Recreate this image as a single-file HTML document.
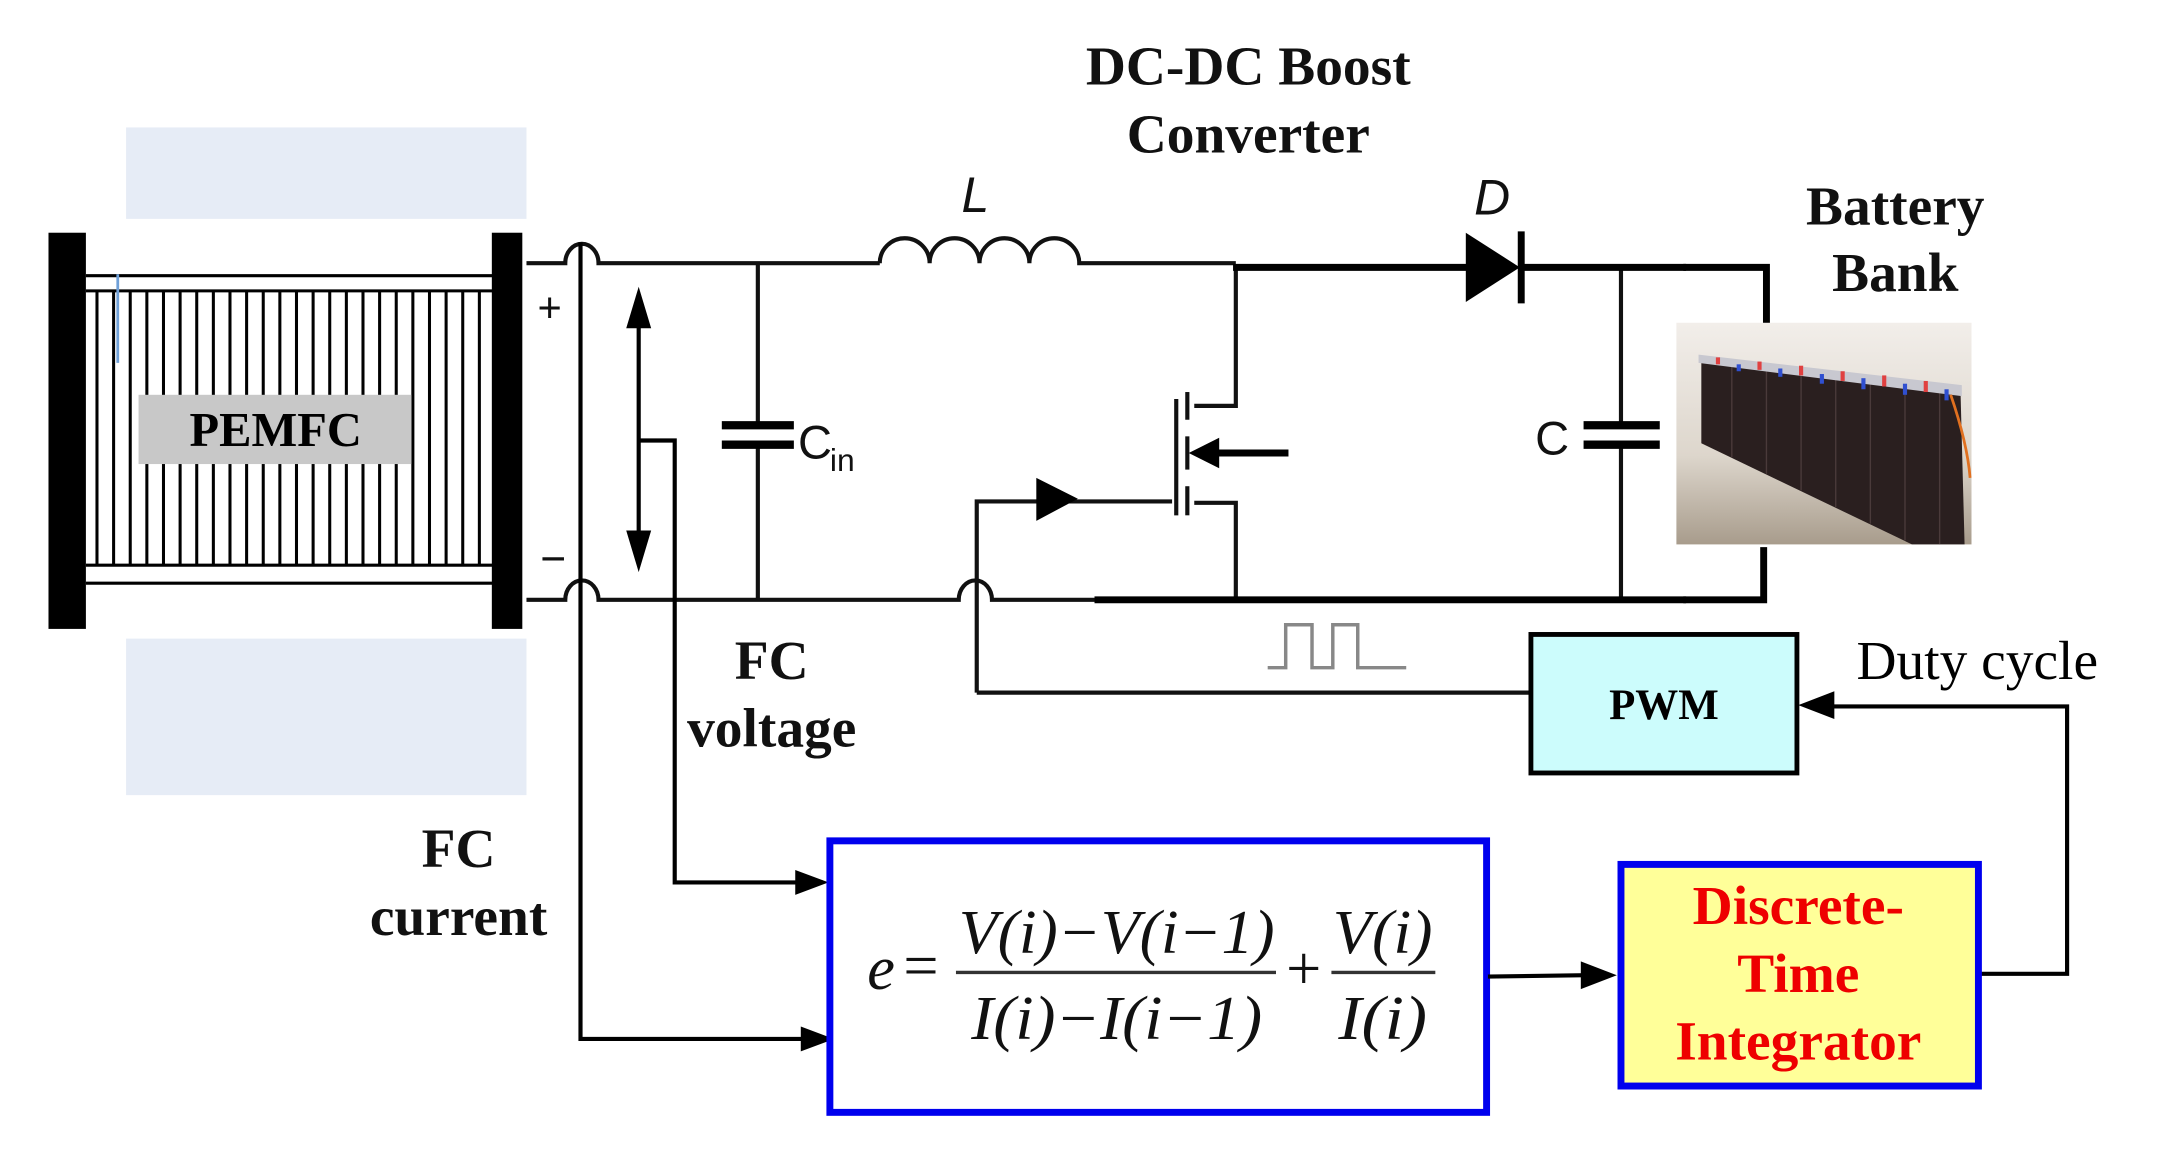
<!DOCTYPE html>
<html><head><meta charset="utf-8"><style>html,body{margin:0;padding:0;background:#fff}svg{display:block}</style></head>
<body>
<svg width="2171" height="1165" viewBox="0 0 1567 841" preserveAspectRatio="none" xmlns="http://www.w3.org/2000/svg" font-family="Liberation Serif, serif">
<rect x="0" y="0" width="1567" height="841" fill="#fff"/>
<rect x="91" y="92" width="289" height="66" fill="#e6ecf6"/>
<rect x="91" y="461" width="289" height="113" fill="#e6ecf6"/>
<g stroke="#000" stroke-width="2.2">
<line x1="62" y1="199" x2="356" y2="199"/><line x1="62" y1="210" x2="356" y2="210"/>
<line x1="62" y1="408" x2="356" y2="408"/><line x1="62" y1="421" x2="356" y2="421"/>
<line x1="70" y1="210" x2="70" y2="408"/><line x1="82" y1="210" x2="82" y2="408"/><line x1="94" y1="210" x2="94" y2="408"/><line x1="106" y1="210" x2="106" y2="408"/><line x1="118" y1="210" x2="118" y2="408"/><line x1="130" y1="210" x2="130" y2="408"/><line x1="142" y1="210" x2="142" y2="408"/><line x1="154" y1="210" x2="154" y2="408"/><line x1="166" y1="210" x2="166" y2="408"/><line x1="178" y1="210" x2="178" y2="408"/><line x1="190" y1="210" x2="190" y2="408"/><line x1="202" y1="210" x2="202" y2="408"/><line x1="214" y1="210" x2="214" y2="408"/><line x1="226" y1="210" x2="226" y2="408"/><line x1="238" y1="210" x2="238" y2="408"/><line x1="250" y1="210" x2="250" y2="408"/><line x1="262" y1="210" x2="262" y2="408"/><line x1="274" y1="210" x2="274" y2="408"/><line x1="286" y1="210" x2="286" y2="408"/><line x1="298" y1="210" x2="298" y2="408"/><line x1="310" y1="210" x2="310" y2="408"/><line x1="322" y1="210" x2="322" y2="408"/><line x1="334" y1="210" x2="334" y2="408"/><line x1="346" y1="210" x2="346" y2="408"/>
</g>
<line x1="85" y1="198" x2="85" y2="262" stroke="#6fa0d8" stroke-width="2"/>
<rect x="100" y="285" width="197" height="50" fill="#c8c8c8"/>
<text x="199" y="322" font-size="35" font-weight="bold" text-anchor="middle">PEMFC</text>
<rect x="35" y="168" width="27" height="286" fill="#000"/>
<rect x="355" y="168" width="22" height="286" fill="#000"/>
<g fill="none" stroke="#111" stroke-width="3">
<path d="M380,190 H408 A12,14 0 0 1 432,190 H635"/>
<path d="M635,190 a18,18 0 0 1 36,0 a18,18 0 0 1 36,0 a18,18 0 0 1 36,0 a18,18 0 0 1 36,0 H892"/>
<path d="M380,433 H408 A12,14 0 0 1 432,433 H692 A12,14 0 0 1 716,433 H790"/>
<line x1="547" y1="190" x2="547" y2="307"/><line x1="547" y1="321" x2="547" y2="433"/>
<line x1="1170" y1="193" x2="1170" y2="307"/><line x1="1170" y1="321" x2="1170" y2="433"/>
<path d="M892,193 V293 H862"/>
<path d="M862,363 H892 V433"/>
<line x1="849" y1="288" x2="849" y2="372"/>
<line x1="857" y1="283" x2="857" y2="303"/><line x1="857" y1="315" x2="857" y2="339"/><line x1="857" y1="351" x2="857" y2="372"/>
<path d="M705,500 V362 H846"/>
<path d="M705,500 H1105"/>
</g>
<g stroke="#000" stroke-width="5" fill="none">
<line x1="790" y1="433" x2="1217" y2="433"/>
<line x1="890" y1="193" x2="1060" y2="193"/>
<line x1="1098" y1="193" x2="1217" y2="193"/>
<path d="M1215,193 H1275 V235"/>
<path d="M1215,433 H1273 V395"/>
<line x1="870" y1="327" x2="930" y2="327"/>
</g>
<path d="M858,327 L880,316 L880,338 Z" fill="#000"/>
<path d="M748,345 L778,360 L748,376 Z" fill="#000"/>
<path d="M1058,168 L1097,193 L1058,218 Z" fill="#000"/>
<line x1="1098" y1="167" x2="1098" y2="219" stroke="#000" stroke-width="5"/>
<g stroke="#000" stroke-width="6">
<line x1="521" y1="307" x2="573" y2="307"/><line x1="521" y1="321" x2="573" y2="321"/>
<line x1="1143" y1="307" x2="1198" y2="307"/><line x1="1143" y1="321" x2="1198" y2="321"/>
</g>
<text x="576" y="331" font-family="Liberation Sans, sans-serif" font-size="34" fill="#111">C</text>
<text x="599" y="340" font-family="Liberation Sans, sans-serif" font-size="23" fill="#111">in</text>
<text x="1108" y="328" font-family="Liberation Sans, sans-serif" font-size="34" fill="#111">C</text>
<text x="694" y="153" font-family="Liberation Sans, sans-serif" font-style="italic" font-size="36" fill="#111">L</text>
<text x="1064" y="155" font-family="Liberation Sans, sans-serif" font-style="italic" font-size="36" fill="#111">D</text>
<text x="388" y="232" font-family="Liberation Sans, sans-serif" font-size="30" fill="#111">+</text>
<text x="390" y="414" font-family="Liberation Sans, sans-serif" font-size="32" fill="#111">−</text>
<line x1="461" y1="230" x2="461" y2="390" stroke="#000" stroke-width="3"/>
<path d="M461,207 L452,237 L470,237 Z M461,413 L452,383 L470,383 Z" fill="#000"/>
<path d="M461,318 H487 V637 H594" fill="none" stroke="#000" stroke-width="3"/>
<path d="M419,175 V750 H598" fill="none" stroke="#000" stroke-width="3"/>
<path d="M574,628 L598,637 L574,646 Z M578,741 L602,750 L578,759 Z" fill="#000"/>
<path d="M915,482 H928 V451 H947 V482 H962 V451 H980 V482 H1015" fill="none" stroke="#888" stroke-width="2.5"/>
<rect x="1105" y="458" width="192" height="100" fill="#ccfcfc" stroke="#000" stroke-width="3.5"/>
<text x="1201" y="519" font-size="31" font-weight="bold" text-anchor="middle">PWM</text>
<text x="1340" y="490" font-size="40">Duty cycle</text>
<path d="M1428,703 H1492 V510 H1320" fill="none" stroke="#000" stroke-width="3"/>
<path d="M1298,509 L1324,499 L1324,519 Z" fill="#000"/>
<rect x="599" y="607" width="474" height="196" fill="#fff" stroke="#0000ee" stroke-width="5"/>
<g font-style="italic" font-size="45" fill="#111">
<text x="626" y="714">e</text>
<text x="652" y="712" font-style="normal">=</text>
<text x="806" y="688" text-anchor="middle" textLength="228" lengthAdjust="spacingAndGlyphs">V(i)−V(i−1)</text>
<text x="806" y="750" text-anchor="middle" textLength="210" lengthAdjust="spacingAndGlyphs">I(i)−I(i−1)</text>
<text x="941" y="714" font-style="normal" text-anchor="middle">+</text>
<text x="998" y="688" text-anchor="middle" textLength="72" lengthAdjust="spacingAndGlyphs">V(i)</text>
<text x="998" y="750" text-anchor="middle" textLength="64" lengthAdjust="spacingAndGlyphs">I(i)</text>
</g>
<line x1="690" y1="702" x2="921" y2="702" stroke="#333" stroke-width="2.5"/>
<line x1="961" y1="702" x2="1036" y2="702" stroke="#333" stroke-width="2.5"/>
<line x1="1074" y1="705" x2="1145" y2="704" stroke="#000" stroke-width="3"/>
<path d="M1167,704 L1141,694 L1141,714 Z" fill="#000"/>
<rect x="1170" y="624" width="258" height="160" fill="#ffff99" stroke="#0000ee" stroke-width="5"/>
<g font-size="40" font-weight="bold" fill="#ee0000" text-anchor="middle">
<text x="1298" y="667">Discrete-</text>
<text x="1298" y="716">Time</text>
<text x="1298" y="765">Integrator</text>
</g>
<g font-size="40" font-weight="bold" fill="#111" text-anchor="middle">
<text x="901" y="61">DC-DC Boost</text>
<text x="901" y="110">Converter</text>
<text x="1368" y="162">Battery</text>
<text x="1368" y="210">Bank</text>
<text x="557" y="490">FC</text>
<text x="557" y="539">voltage</text>
<text x="331" y="626">FC</text>
<text x="331" y="675">current</text>
</g>
<defs>
<linearGradient id="bg" x1="0" y1="0" x2="0" y2="1"><stop offset="0" stop-color="#f2eeea"/><stop offset="0.6" stop-color="#ddd6cc"/><stop offset="1" stop-color="#a89c8c"/></linearGradient>
</defs>
<rect x="1210" y="233" width="213" height="160" fill="url(#bg)"/>
<path d="M1228,258 L1415,280 L1418,393 L1380,393 L1228,320 Z" fill="#2a1f1f"/>
<g stroke="#4a3a3a" stroke-width="1"><line x1="1250" y1="262" x2="1250" y2="330"/><line x1="1275" y1="265" x2="1275" y2="342"/><line x1="1300" y1="268" x2="1300" y2="354"/><line x1="1325" y1="271" x2="1325" y2="366"/><line x1="1350" y1="274" x2="1350" y2="378"/><line x1="1375" y1="277" x2="1375" y2="390"/><line x1="1400" y1="280" x2="1400" y2="393"/></g>
<path d="M1226,256 L1416,278 L1416,286 L1226,262 Z" fill="#c8c8d0"/>
<g stroke="#e04040" stroke-width="3"><line x1="1240" y1="258" x2="1240" y2="263"/><line x1="1270" y1="261" x2="1270" y2="267"/><line x1="1300" y1="264" x2="1300" y2="271"/><line x1="1330" y1="268" x2="1330" y2="275"/><line x1="1360" y1="271" x2="1360" y2="279"/><line x1="1390" y1="275" x2="1390" y2="283"/></g>
<g stroke="#3050d0" stroke-width="3"><line x1="1255" y1="263" x2="1255" y2="268"/><line x1="1285" y1="266" x2="1285" y2="272"/><line x1="1315" y1="270" x2="1315" y2="277"/><line x1="1345" y1="273" x2="1345" y2="281"/><line x1="1375" y1="277" x2="1375" y2="285"/><line x1="1405" y1="281" x2="1405" y2="289"/></g>
<path d="M1408,285 Q1420,320 1422,345" stroke="#e07020" stroke-width="2" fill="none"/>
</svg>
</body></html>
